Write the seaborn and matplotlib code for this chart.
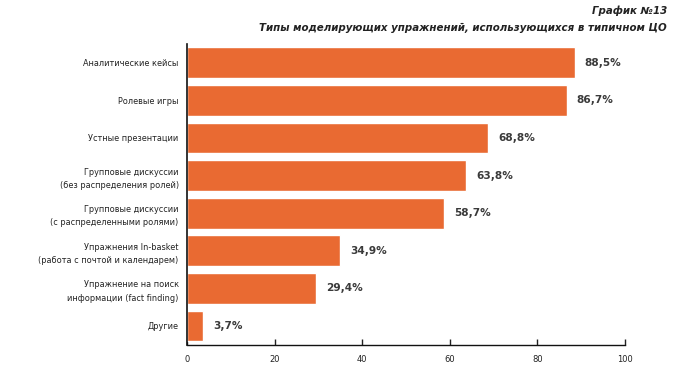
import pandas as pd
import matplotlib.pyplot as plt
import seaborn as sns

# data
categories = [
    "Аналитические кейсы",
    "Ролевые игры",
    "Устные презентации",
    "Групповые дискуссии\n(без распределения ролей)",
    "Групповые дискуссии\n(с распределенными ролями)",
    "Упражнения In-basket\n(работа с почтой и календарем)",
    "Упражнение на поиск\nинформации (fact finding)",
    "Другие",
]
values = [88.5, 86.7, 68.8, 63.8, 58.7, 34.9, 29.4, 3.7]
value_labels = ["88,5%", "86,7%", "68,8%", "63,8%", "58,7%", "34,9%", "29,4%", "3,7%"]

df = pd.DataFrame({"category": categories, "value": values})

sns.set_style("white")
plt.rcParams["font.family"] = ["Liberation Sans Narrow", "DejaVu Sans"]

fig = plt.figure(figsize=(6.8, 3.76), dpi=100)
ax = fig.add_axes([0.275, 0.083, 0.644, 0.8])

sns.barplot(x="value", y="category", data=df, color="#E96A32", saturation=1,
            width=0.82, orient="h", ax=ax)

for i, (v, lab) in enumerate(zip(values, value_labels)):
    ax.text(v + 2.3, i, lab, va="center", ha="left", fontsize=7.6,
            fontweight="bold", color="#3a3a3a")

ax.set_xlim(0, 100)
ax.set_ylim(7.5, -0.5)
ax.set_xticks([0, 20, 40, 60, 80, 100])
ax.set_xlabel("")
ax.set_ylabel("")
ax.tick_params(axis="x", direction="in", length=4, width=1, labelsize=6,
               colors="#222222", pad=7, bottom=True)
ax.tick_params(axis="y", length=0, labelsize=5.9, colors="#222222", pad=6)
for lab in ax.get_yticklabels():
    lab.set_horizontalalignment("right")
    lab.set_linespacing(1.6)
for s in ["top", "right"]:
    ax.spines[s].set_visible(False)
ax.spines["left"].set_color("#111111")
ax.spines["bottom"].set_color("#111111")
ax.spines["left"].set_linewidth(1.2)
ax.spines["bottom"].set_linewidth(1.0)

fig.text(0.981, 0.972, "График №13", ha="right", va="center", fontsize=7.4,
         fontweight="bold", fontstyle="italic", color="#222222")
fig.text(0.981, 0.925, "Типы моделирующих упражнений, использующихся в типичном ЦО",
         ha="right", va="center", fontsize=7.4, fontweight="bold",
         fontstyle="italic", color="#222222")

plt.savefig("out.png", dpi=100)
